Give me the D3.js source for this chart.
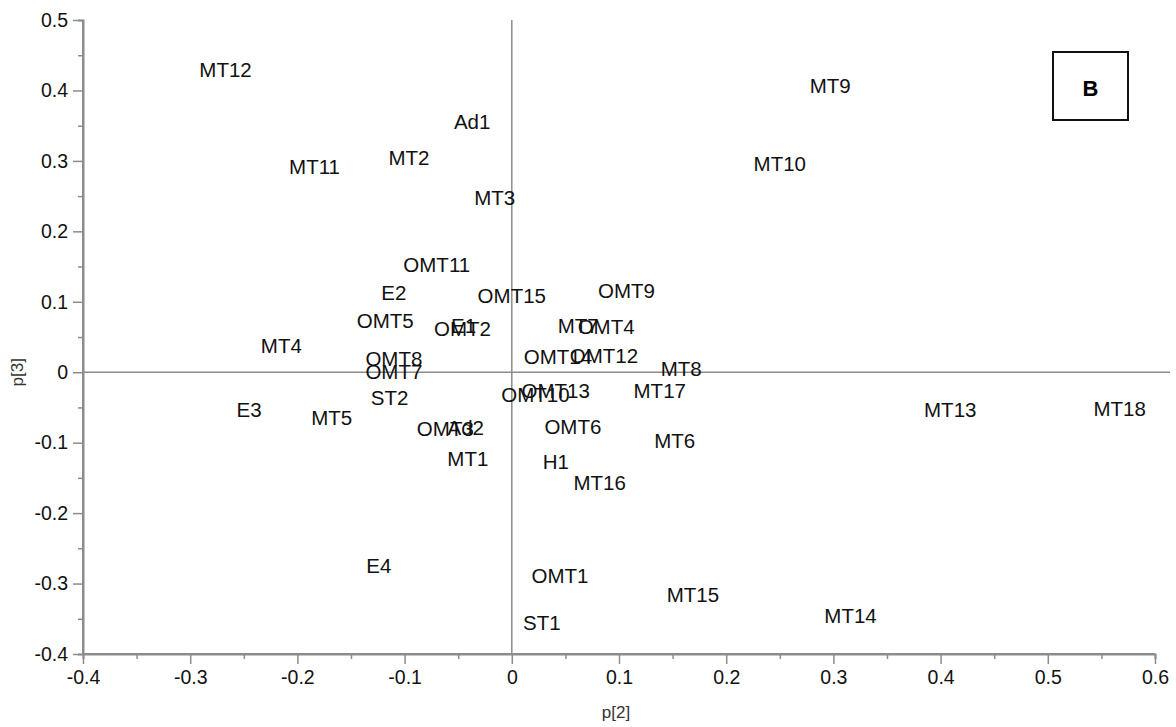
<!DOCTYPE html>
<html><head><meta charset="utf-8">
<script src="https://cdn.jsdelivr.net/npm/d3@7"></script>
<style>body{margin:0;background:#fff}svg{display:block;font-family:"Liberation Sans",Arial,sans-serif}</style>
</head><body><svg id="c" width="1176" height="727"></svg>
<script>
const labels = ["MT12","MT11","MT2","Ad1","MT3","MT9","MT10","OMT11","E2","OMT15","OMT9","OMT5","OMT2","E1","MT7","OMT4","OMT14","OMT12","MT8","OMT8","OMT7","ST2","OMT13","OMT10","MT17","OMT3","Ad2","OMT6","MT6","MT1","H1","MT16","MT4","E3","MT5","E4","OMT1","ST1","MT15","MT14","MT13","MT18"];
const p2 = [-0.267,-0.184,-0.096,-0.037,-0.016,0.297,0.250,-0.070,-0.110,0.000,0.107,-0.118,-0.046,-0.045,0.062,0.088,0.043,0.086,0.158,-0.110,-0.110,-0.114,0.041,0.022,0.138,-0.062,-0.043,0.057,0.152,-0.041,0.041,0.082,-0.215,-0.245,-0.168,-0.124,0.045,0.028,0.169,0.316,0.409,0.567];
const p3 = [0.428,0.290,0.303,0.354,0.246,0.405,0.295,0.152,0.112,0.107,0.115,0.072,0.061,0.065,0.065,0.064,0.021,0.023,0.004,0.018,-0.001,-0.038,-0.028,-0.033,-0.027,-0.081,-0.080,-0.078,-0.098,-0.124,-0.128,-0.158,0.036,-0.054,-0.065,-0.276,-0.290,-0.357,-0.317,-0.347,-0.055,-0.053];
const xTicks = [-0.4,-0.3,-0.2,-0.1,0,0.1,0.2,0.3,0.4,0.5,0.6];
const yTicks = [0.5,0.4,0.3,0.2,0.1,0,-0.1,-0.2,-0.3,-0.4];
const xMinor = [-0.35,-0.25,-0.15,-0.05,0.05,0.15,0.25,0.35,0.45,0.55];
const yMinor = [0.45,0.35,0.25,0.15,0.05,-0.05,-0.15,-0.25,-0.35];
const xTitle = "p[2]", yTitle = "p[3]", panel = "B";

const svg = d3.select("#c");
const m = {l:83, r:21, t:20, b:73};
const W = 1176, H = 727;
const x = d3.scaleLinear().domain([-0.4,0.6]).range([m.l, W-m.r]);
const y = d3.scaleLinear().domain([-0.4,0.5]).range([H-m.b, m.t]);
const fmt = d => d===0 ? "0" : d.toFixed(1);
const axCol = "#8c8c8c";

// zero lines
svg.append("line").attr("x1",x(0)).attr("x2",x(0)).attr("y1",y(0.5)).attr("y2",y(-0.4)).attr("stroke",axCol).attr("stroke-width",1.5);
svg.append("line").attr("x1",x(-0.4)).attr("x2",W-6).attr("y1",y(0)).attr("y2",y(0)).attr("stroke",axCol).attr("stroke-width",1.5);

// x axis
const gx = svg.append("g").attr("transform",`translate(0,${y(-0.4)})`)
  .call(d3.axisBottom(x).tickValues(xTicks).tickFormat(fmt).tickSize(10).tickPadding(6));
const gxm = svg.append("g").attr("transform",`translate(0,${y(-0.4)})`)
  .call(d3.axisBottom(x).tickValues(xMinor).tickFormat("").tickSize(5));
// y axis
const gy = svg.append("g").attr("transform",`translate(${x(-0.4)},0)`)
  .call(d3.axisLeft(y).tickValues(yTicks).tickFormat(fmt).tickSize(10).tickPadding(5));
const gym = svg.append("g").attr("transform",`translate(${x(-0.4)},0)`)
  .call(d3.axisLeft(y).tickValues(yMinor).tickFormat("").tickSize(5));
[gx,gxm,gy,gym].forEach(g=>{
  g.select(".domain").attr("stroke",axCol).attr("stroke-width",2);
  g.selectAll(".tick line").attr("stroke",axCol).attr("stroke-width",1.5);
  g.selectAll(".tick text").attr("fill","#111").attr("font-size",19.5).attr("font-family","Liberation Sans, Arial, sans-serif");
});
gx.select(".domain").attr("d",`M${x(-0.4)},0H${x(0.6)}`);
gy.select(".domain").attr("d",`M0,${y(0.5)}V${y(-0.4)}`);

svg.append("text").attr("x",616).attr("y",718).attr("text-anchor","middle").attr("font-size",17).attr("fill","#333").text(xTitle);
svg.append("text").attr("transform",`translate(23,${y(0)}) rotate(-90)`).attr("text-anchor","middle").attr("font-size",17).attr("fill","#333").text(yTitle);

// point labels
svg.append("g").selectAll("text").data(labels).join("text")
  .attr("x",(d,i)=>x(p2[i])).attr("y",(d,i)=>y(p3[i]) - 1)
  .attr("text-anchor","middle").attr("dominant-baseline","central")
  .attr("font-size",20.5).attr("fill","#111").text(d=>d);

// panel box
svg.append("rect").attr("x",1053).attr("y",52).attr("width",75).attr("height",68).attr("fill","#fff").attr("stroke","#111").attr("stroke-width",2);
svg.append("text").attr("x",1090.5).attr("y",88).attr("text-anchor","middle").attr("dominant-baseline","central").attr("font-size",22).attr("font-weight","bold").attr("fill","#000").text(panel);
</script></body></html>
